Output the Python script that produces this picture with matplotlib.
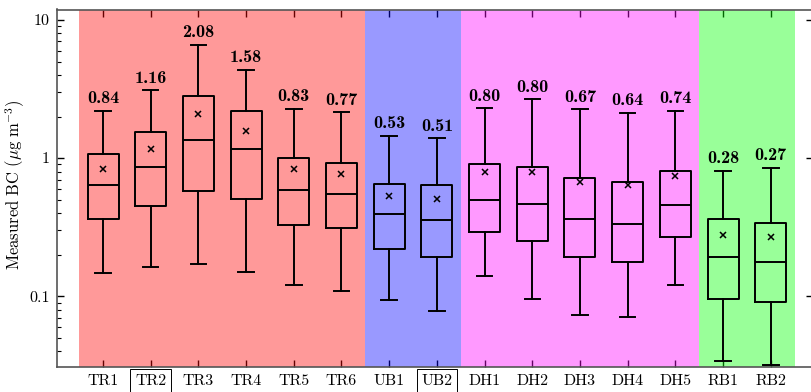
import os
import matplotlib
matplotlib.use("Agg")
import matplotlib.pyplot as plt
from matplotlib.ticker import FuncFormatter, LogLocator, NullFormatter
from matplotlib.font_manager import FontProperties
import matplotlib.transforms as mtransforms

plt.rcParams['mathtext.fontset'] = 'cm'
plt.rcParams['font.family'] = ['DejaVu Serif']

categories = ["TR1", "TR2", "TR3", "TR4", "TR5", "TR6", "UB1", "UB2",
              "DH1", "DH2", "DH3", "DH4", "DH5", "RB1", "RB2"]
whisker_low = [0.147, 0.162, 0.171, 0.150, 0.120, 0.110, 0.0936, 0.0783,
               0.140, 0.0956, 0.0729, 0.0709, 0.121, 0.0341, 0.0318]
q1 = [0.364, 0.452, 0.576, 0.507, 0.327, 0.311, 0.221, 0.1934,
      0.293, 0.2525, 0.192, 0.177, 0.270, 0.0951, 0.0916]
median = [0.640, 0.858, 1.345, 1.171, 0.592, 0.554, 0.391, 0.356,
          0.496, 0.467, 0.364, 0.335, 0.456, 0.192, 0.178]
q3 = [1.065, 1.55, 2.83, 2.18, 0.997, 0.923, 0.654, 0.640,
      0.908, 0.864, 0.719, 0.673, 0.812, 0.360, 0.340]
whisker_high = [2.20, 3.09, 6.60, 4.33, 2.27, 2.14, 1.446, 1.39,
                2.29, 2.66, 2.25, 2.11, 2.18, 0.812, 0.850]
means = [0.84, 1.16, 2.08, 1.58, 0.83, 0.77, 0.53, 0.51,
         0.80, 0.80, 0.67, 0.64, 0.74, 0.28, 0.27]
boxed_labels = ["TR2", "UB2"]

groups = [("TR", 6, "red"), ("UB", 2, "blue"), ("DH", 5, "magenta"), ("RB", 2, "lime")]

fontdir = os.path.join(matplotlib.get_data_path(), 'fonts', 'ttf')
cmr = os.path.join(fontdir, 'cmr10.ttf')
cmb = os.path.join(fontdir, 'cmb10.ttf')
fp_tick = FontProperties(fname=cmr, size=11.5) if os.path.exists(cmr) else FontProperties(family='DejaVu Serif', size=10.5)
fp_bold = FontProperties(fname=cmb, size=13) if os.path.exists(cmb) else FontProperties(family='DejaVu Serif', weight='bold', size=10.5)

fig = plt.figure(figsize=(8.11, 3.92), dpi=100)
ax = fig.add_axes([56.5 / 811, 1 - 367 / 392, (812.5 - 56.5) / 811, (367 - 9.5) / 392])

positions = list(range(len(categories)))

start = 0
for name, n, col in groups:
    ax.axvspan(start - 0.5, start + n - 0.5, color=col, alpha=0.4, lw=0, zorder=2)
    start += n

stats = []
for i in range(len(categories)):
    stats.append(dict(whislo=whisker_low[i], q1=q1[i], med=median[i], q3=q3[i],
                      whishi=whisker_high[i], mean=means[i], fliers=[]))

lp = dict(color='black', lw=1.4)
ax.bxp(stats, positions=positions, widths=0.65, showmeans=True, showfliers=False,
       boxprops=lp, whiskerprops=lp, capprops=lp, medianprops=lp,
       meanprops=dict(marker='x', markeredgecolor='black', markersize=4.5, markeredgewidth=1.1),
       zorder=3, manage_ticks=False)

for i, m in enumerate(means):
    ax.annotate('%.2f' % m, (positions[i], whisker_high[i]),
                xytext=(0, 3.5), textcoords='offset points', ha='center', va='bottom',
                fontproperties=fp_bold, zorder=5)

ax.set_yscale('log')
ax.set_ylim(0.0308, 11.9)
ax.set_xlim(-0.975, 14.875)

ax.yaxis.set_major_locator(LogLocator(base=10, numticks=10))
ax.yaxis.set_minor_locator(LogLocator(base=10, subs=range(2, 10), numticks=20))
ax.yaxis.set_minor_formatter(NullFormatter())
ax.yaxis.set_major_formatter(FuncFormatter(lambda v, p: '%g' % v))

ax.set_xticks(positions)
ax.set_xticklabels(categories)
for lab, c in zip(ax.get_xticklabels(), categories):
    lab.set_fontproperties(fp_tick)
    if c in boxed_labels:
        lab.set_bbox(dict(boxstyle='square,pad=0.3', fc='none', ec='black', lw=0.7))
        lab.set_transform(lab.get_transform() + mtransforms.ScaledTranslation(0, -3.5 / 72, fig.dpi_scale_trans))
for lab in ax.get_yticklabels():
    lab.set_fontproperties(fp_tick)

ax.tick_params(axis='x', which='major', direction='in', top=True, bottom=True, length=5, width=1, pad=5)
ax.tick_params(axis='y', which='major', direction='in', left=True, right=True, length=5, width=1, pad=5)
ax.tick_params(axis='y', which='minor', direction='in', left=True, right=False, length=3, width=0.8)
ax.tick_params(axis='x', which='minor', bottom=False, top=False)

for s in ax.spines.values():
    s.set_color('#555555')
    s.set_linewidth(1.2)

fig.text(15.5 / 811, 1 - 185 / 392, r'$\mathrm{Measured\ BC\ (}\mu\mathrm{g\ m}^{-3}\mathrm{)}$',
         fontsize=12, rotation=90, ha='center', va='center')

fig.savefig("out.png", dpi=100)
